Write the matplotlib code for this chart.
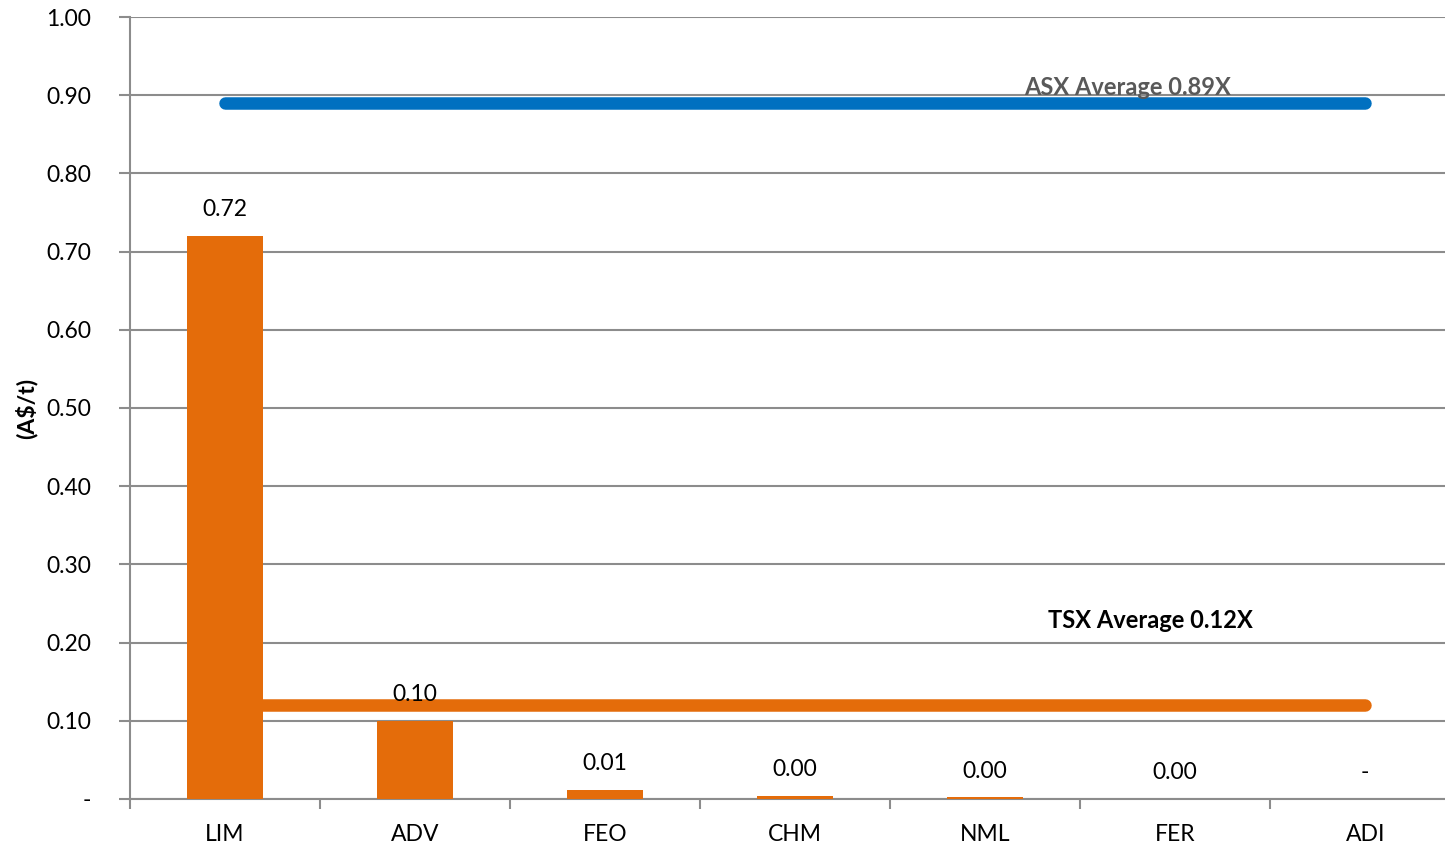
import numpy as np
import matplotlib.pyplot as plt

plt.rcParams['font.family'] = ['Lato', 'DejaVu Sans']

companies = ['LIM', 'ADV', 'FEO', 'CHM', 'NML', 'FER', 'ADI']
values = [0.72, 0.10, 0.012, 0.004, 0.002, 0.0004, 0.0]
labels = ['0.72', '0.10', '0.01', '0.00', '0.00', '0.00', '-']
asx_avg = 0.89
tsx_avg = 0.12
yticks = [0.0, 0.1, 0.2, 0.3, 0.4, 0.5, 0.6, 0.7, 0.8, 0.9, 1.0]
ytick_labels = ['-'] + ['%.2f' % v for v in yticks[1:]]

orange = '#E46C0A'
blue = '#0070C0'
grid = '#8C8C8C'

fig = plt.figure(figsize=(14.45, 8.46), dpi=100)
ax = fig.add_axes([0.09, 0.0556, 0.91, 0.9243])

x = np.arange(len(companies))
ax.bar(x, values, width=0.4, color=orange, zorder=3)

for xi, v, lab in zip(x, values, labels):
    ax.annotate(lab, (xi, v), xytext=(0, 19), textcoords='offset points',
                ha='center', va='center', fontsize=16.5, color='black', zorder=6)

# average lines across the peer group
ax.plot([x[0], x[-1]], [asx_avg, asx_avg], color=blue, lw=9,
        solid_capstyle='round', zorder=4)
ax.plot([x[0], x[-1]], [tsx_avg, tsx_avg], color=orange, lw=9,
        solid_capstyle='round', zorder=4)
ax.text(4.75, 0.91, 'ASX Average 0.89X', ha='center', va='center',
        fontsize=17, fontweight='bold', color='#595959', zorder=5)
ax.text(4.87, 0.228, 'TSX Average 0.12X', ha='center', va='center',
        fontsize=17, fontweight='bold', color='black', zorder=5)

ax.set_yticks(yticks)
ax.set_yticklabels(ytick_labels, fontsize=16.5)
ax.yaxis.grid(True, color=grid, lw=1.5, zorder=0)
ax.set_axisbelow(True)

ax.set_xticks(x)
ax.set_xticklabels(companies, fontsize=16.5)
ax.set_xticks(np.arange(-0.5, 7, 1.0), minor=True)
ax.tick_params(axis='x', which='major', length=0, pad=18)
ax.tick_params(axis='x', which='minor', length=7, width=1.5, color=grid)
ax.tick_params(axis='y', length=8, width=1.5, color=grid, pad=20)

ax.set_ylim(0, 1.0)
ax.set_xlim(-0.5, 6.42)

ax.set_ylabel('(A$/t)', fontsize=16.5, fontweight='bold', labelpad=6)

for side in ['top', 'right']:
    ax.spines[side].set_visible(False)
for side in ['left', 'bottom']:
    ax.spines[side].set_color(grid)
    ax.spines[side].set_linewidth(1.5)

fig.savefig('out.png', dpi=100)
